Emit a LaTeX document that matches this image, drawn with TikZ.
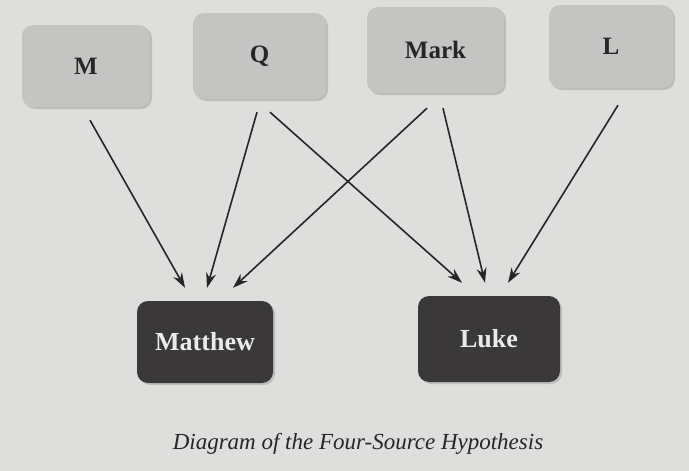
\documentclass[tikz,border=0pt]{standalone}
\usepackage{fontspec}
\setmainfont{Liberation Serif}
\usetikzlibrary{calc,shadows,arrows.meta}
\definecolor{paper}{HTML}{DEDEDC}
\definecolor{srcfill}{HTML}{C4C4C2}
\definecolor{gospelfill}{HTML}{3A3838}
\tikzset{
  srcbox/.style={draw=none, fill=srcfill, rounded corners=11pt, inner sep=0pt,
    font=\fontsize{25}{28}\selectfont\bfseries, text=black!85,
    drop shadow={opacity=0.35, shadow xshift=2pt, shadow yshift=-2pt}},
  gospelbox/.style={draw=none, fill=gospelfill, rounded corners=11pt, inner sep=0pt,
    font=\fontsize{26}{28}\selectfont\bfseries, text=white!92!black,
    drop shadow={opacity=0.35, shadow xshift=2pt, shadow yshift=-2pt}},
  arr/.style={-{Stealth[length=15pt,width=10pt]}, line width=1.6pt, black!85}
}
\begin{document}
\begin{tikzpicture}[x=1pt,y=-1pt]
\fill[paper] (0,0) rectangle (689,471);
\useasboundingbox (0,0) rectangle (689,471);

\node[srcbox, minimum width=128pt, minimum height=82pt] (M) at (86,66) {M};
\node[srcbox, minimum width=133pt, minimum height=86pt] (Q) at (259.5,56) {Q};
\node[srcbox, minimum width=137pt, minimum height=86pt] (Mark) at (435.5,50) {Mark};
\node[srcbox, minimum width=124pt, minimum height=83pt] (L) at (611,46.5) {L};

\node[gospelbox, minimum width=136pt, minimum height=82pt] (Matthew) at (205,342) {Matthew};
\node[gospelbox, minimum width=142pt, minimum height=86pt] (Luke) at (489,339) {Luke};

\draw[arr] ($(M.south)+(4,13)$) -- ($(Matthew.north)+(-20,-13)$);
\draw[arr] ($(Q.south)+(-2.5,13)$) -- ($(Matthew.north)+(2,-13)$);
\draw[arr] ($(Mark.south)+(-8.5,15)$) -- ($(Matthew.north)+(28,-13)$);
\draw[arr] ($(Q.south)+(10.5,13)$) -- ($(Luke.north)+(-27,-13)$);
\draw[arr] ($(Mark.south)+(7.5,15)$) -- ($(Luke.north)+(-4,-13)$);
\draw[arr] ($(L.south)+(7,17)$) -- ($(Luke.north)+(19,-13)$);

\node[font=\fontsize{23}{26}\selectfont\itshape, text=black!85] (cap) at (358,444) {Diagram of the Four-Source Hypothesis};
\end{tikzpicture}
\end{document}
